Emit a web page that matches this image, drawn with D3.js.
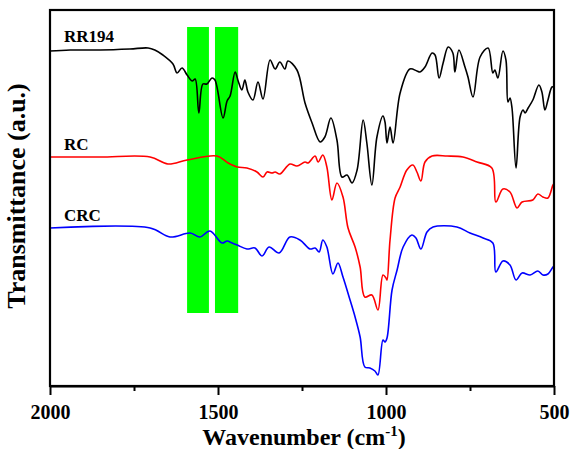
<!DOCTYPE html>
<html><head><meta charset="utf-8">
<script src="https://cdn.jsdelivr.net/npm/d3@7/dist/d3.min.js"></script>
<style>body{margin:0;background:#fff}svg{display:block}</style>
</head><body>
<script>
// Data (wavenumber cm^-1, transmittance a.u.)
const rr194Wn = [2000,1940,1851,1762,1708,1688,1664,1634,1622,1607,1592,1577,1568,1557,1545,1533,1518,1509,1485,1473,1464,1449,1440,1429,1420,1411,1396,1381,1366,1345,1330,1316,1301,1292,1265,1241,1220,1196,1182,1164,1146,1131,1116,1101,1086,1068,1057,1042,1027,1009,1003,997,988,979,958,929,908,899,884,863,854,842,830,815,801,795,783,765,756,741,720,696,682,676,667,652,643,637,631,625,613,601,592,586,577,563,545,536,527,518,506,500];
const rr194T  = [335,336,336,337,338,336,331,322,313,318,311,305,307,273,302,302,308,306,268,285,290,314,305,296,306,294,286,304,287,326,317,324,317,325,316,283,263,244,249,268,246,209,211,203,216,266,243,201,249,270,264,243,259,243,293,317,315,314,319,333,331,308,323,339,333,314,336,319,309,289,329,338,313,316,308,335,326,284,288,278,218,269,276,273,278,286,301,294,276,286,299,299];

const rcWn = [2000,1851,1702,1649,1592,1503,1470,1443,1414,1384,1366,1354,1339,1330,1316,1286,1265,1241,1232,1211,1202,1188,1176,1161,1146,1128,1113,1092,1077,1063,1042,1024,1009,1000,997,988,973,958,938,920,908,896,884,863,818,771,729,685,673,652,631,610,595,563,548,533,518,503,500];
const rcT  = [229,229,229,222,226,230,223,219,218,214,209,214,213,214,212,222,220,224,223,230,224,231,219,186,203,189,158,139,119,89,91,76,111,108,106,146,188,199,216,221,214,205,224,230,230,229,224,218,184,197,194,178,184,186,192,189,188,201,202];

const crcWn = [2000,1702,1643,1583,1554,1524,1488,1473,1458,1443,1414,1390,1369,1348,1318,1286,1256,1226,1211,1199,1188,1176,1158,1143,1128,1107,1092,1077,1063,1048,1033,1024,1009,1003,997,982,967,949,923,911,896,878,860,789,750,711,682,673,652,631,613,595,571,548,533,518,503,500];
const crcT  = [158,158,149,153,149,155,143,145,143,141,137,138,130,139,133,149,146,137,138,134,146,139,112,123,109,86,69,49,19,18,15,11,46,44,48,96,116,139,151,148,137,154,159,159,153,148,143,114,125,121,106,113,111,115,111,112,119,120];

const seriesNames  = ["RR194","RC","CRC"];
const seriesColors = ["#000000","#ff0000","#0000ff"];
const labelAt = [[2000,344],[2000,236],[2000,165]];

const bandRanges = [[1592,1527],[1509,1440]];
const bandTop = 359, bandBottom = 73;

const xTicks = [2000,1500,1000,500];
const xMinorTicks = [1750,1250,750];

const W = 572, H = 449;
const m = {left:50, right:18, top:10, bottom:63};
const svg = d3.select("body").append("svg").attr("width",W).attr("height",H);

const x = d3.scaleLinear().domain([2000,500]).range([m.left, W-m.right]);
const y = d3.scaleLinear().domain([0,376]).range([H-m.bottom, m.top]);

// green bands
svg.selectAll("rect.band").data(bandRanges).enter().append("rect")
  .attr("x", d=>x(d[0])).attr("width", d=>x(d[1])-x(d[0]))
  .attr("y", y(bandTop)).attr("height", y(bandBottom)-y(bandTop))
  .attr("fill","#00ff00");

const series = [
  {wn:rr194Wn, t:rr194T},
  {wn:rcWn, t:rcT},
  {wn:crcWn, t:crcT}
];
const line = d3.line().x(d=>x(d[0])).y(d=>y(d[1])).curve(d3.curveCatmullRom.alpha(0.5));
series.forEach((s,i)=>{
  const pts = s.wn.map((w,j)=>[w,s.t[j]]);
  svg.append("path").datum(pts).attr("d",line)
    .attr("fill","none").attr("stroke",seriesColors[i]).attr("stroke-width",1.6)
    .attr("stroke-linejoin","round");
});

// series labels
svg.selectAll("text.lab").data(seriesNames).enter().append("text")
  .attr("x",(d,i)=>x(labelAt[i][0])+14).attr("y",(d,i)=>y(labelAt[i][1]))
  .attr("font-family","'Liberation Serif','Times New Roman',serif")
  .attr("font-weight","bold").attr("font-size",17).attr("fill","#000")
  .text(d=>d);

// frame
svg.append("rect").attr("x",m.left).attr("y",m.top)
  .attr("width",W-m.right-m.left).attr("height",H-m.bottom-m.top)
  .attr("fill","none").attr("stroke","#000").attr("stroke-width",2.2);

// axes
const gx = svg.append("g").attr("transform",`translate(0,${H-m.bottom})`)
  .call(d3.axisBottom(x).tickValues(xTicks).tickFormat(d3.format("d")).tickSize(9).tickSizeOuter(0).tickPadding(10));
gx.select(".domain").attr("stroke-width",2.2);
gx.selectAll(".tick line").attr("stroke-width",2);
gx.selectAll("text").attr("font-family","'Liberation Serif','Times New Roman',serif")
  .attr("font-weight","bold").attr("font-size",20).attr("fill","#000");
const gm = svg.append("g").attr("transform",`translate(0,${H-m.bottom})`)
  .call(d3.axisBottom(x).tickValues(xMinorTicks).tickFormat("").tickSize(5).tickSizeOuter(0));
gm.select(".domain").remove();
gm.selectAll(".tick line").attr("stroke-width",2);

// titles
const xt = svg.append("text").attr("x",(m.left+W-m.right)/2+2).attr("y",445)
  .attr("text-anchor","middle")
  .attr("font-family","'Liberation Serif','Times New Roman',serif")
  .attr("font-weight","bold").attr("font-size",24).attr("fill","#000");
xt.append("tspan").text("Wavenumber (cm");
xt.append("tspan").attr("font-size",15).attr("dy",-9).text("-1");
xt.append("tspan").attr("dy",9).text(")");

svg.append("text").attr("transform","translate(25,196) rotate(-90)")
  .attr("text-anchor","middle")
  .attr("font-family","'Liberation Serif','Times New Roman',serif")
  .attr("font-weight","bold").attr("font-size",26).attr("fill","#000")
  .text("Transmittance (a.u.)");
</script>
</body></html>
